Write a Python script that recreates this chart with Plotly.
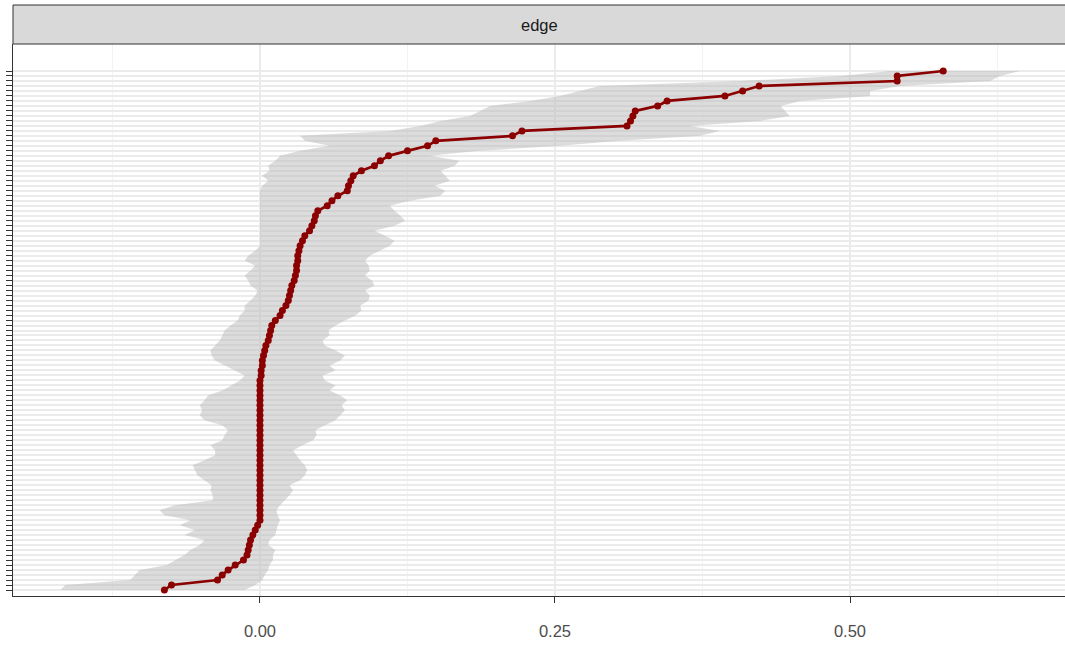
import plotly.graph_objects as go

# Edge index, ordered from the most negative sample weight (bottom) to the largest (top)
edges = list(range(1, 106))

# Sample edge weights
sample = [
    -0.081, -0.075, -0.036, -0.032, -0.027, -0.021, -0.014, -0.011, -0.010, -0.009,
    -0.008, -0.006, -0.004, -0.002,
    0, 0, 0, 0, 0, 0, 0, 0, 0, 0,
    0, 0, 0, 0, 0, 0, 0, 0, 0, 0,
    0, 0, 0, 0, 0, 0, 0, 0, 0,
    0.001, 0.001, 0.002, 0.002, 0.003, 0.004, 0.005, 0.007, 0.008, 0.009,
    0.010, 0.013, 0.017, 0.019, 0.022, 0.024, 0.025, 0.026, 0.027, 0.029,
    0.030, 0.031, 0.031, 0.032, 0.032, 0.033, 0.034, 0.036, 0.038, 0.042,
    0.044, 0.046, 0.047, 0.049, 0.057, 0.061, 0.066, 0.074, 0.075, 0.077,
    0.079, 0.086, 0.097, 0.102, 0.109, 0.125, 0.142, 0.149, 0.214, 0.222,
    0.311, 0.314, 0.316, 0.318, 0.337, 0.345, 0.394, 0.409, 0.423, 0.540,
    0.540, 0.579,
]

# Bootstrap interval, lower bound
lower = [
    -0.169, -0.165, -0.110, -0.106, -0.102, -0.079, -0.072, -0.064, -0.059, -0.051,
    -0.047, -0.064, -0.055, -0.068, -0.059, -0.081, -0.085, -0.072, -0.040, -0.040,
    -0.042, -0.041, -0.047, -0.053, -0.055, -0.057, -0.047, -0.038, -0.038, -0.042,
    -0.032, -0.030, -0.027, -0.032, -0.047, -0.051, -0.049, -0.051, -0.047, -0.044,
    -0.032, -0.024, -0.017, -0.013, -0.021, -0.030, -0.038, -0.041, -0.042, -0.038,
    -0.034, -0.032, -0.030, -0.025, -0.019, -0.017, -0.013, -0.013, -0.008, -0.004,
    -0.002, -0.008, -0.010, -0.013, -0.008, -0.004, -0.013, -0.010, -0.004, 0.000,
    0.000, 0.000, 0.000, 0.000, 0.000, 0.000, 0.000, 0.000, 0.000, 0.000,
    0.000, 0.002, 0.007, 0.002, 0.008, 0.007, 0.013, 0.017, 0.034, 0.059,
    0.038, 0.034, 0.110, 0.136, 0.153, 0.178, 0.186, 0.195, 0.229, 0.254,
    0.271, 0.288, 0.407, 0.492, 0.534,
]

# Bootstrap interval, upper bound
upper = [
    -0.013, -0.004, 0.002, 0.004, 0.007, 0.008, 0.011, 0.011, 0.013, 0.007,
    0.008, 0.013, 0.014, 0.015, 0.017, 0.015, 0.014, 0.017, 0.021, 0.025,
    0.028, 0.025, 0.034, 0.038, 0.040, 0.038, 0.034, 0.031, 0.028, 0.036,
    0.045, 0.048, 0.047, 0.055, 0.064, 0.068, 0.072, 0.069, 0.074, 0.068,
    0.059, 0.064, 0.055, 0.053, 0.064, 0.059, 0.068, 0.072, 0.064, 0.055,
    0.053, 0.059, 0.058, 0.064, 0.072, 0.081, 0.086, 0.085, 0.092, 0.093,
    0.089, 0.097, 0.095, 0.089, 0.093, 0.092, 0.089, 0.093, 0.102, 0.110,
    0.114, 0.106, 0.097, 0.114, 0.123, 0.119, 0.114, 0.110, 0.127, 0.153,
    0.157, 0.148, 0.161, 0.157, 0.153, 0.165, 0.169, 0.144, 0.186, 0.254,
    0.305, 0.373, 0.390, 0.364, 0.424, 0.449, 0.445, 0.441, 0.458, 0.517,
    0.517, 0.542, 0.619, 0.627, 0.644,
]

x_ticks = [0.0, 0.25, 0.5]
x_tick_labels = ["0.00", "0.25", "0.50"]
x_minor_ticks = [-0.125, 0.125, 0.375, 0.625]
panel_title = "edge"

FONT = "Liberation Sans, Arial, sans-serif"
DARK = "#333333"

fig = go.Figure()

# Bootstrap band
fig.add_trace(go.Scatter(
    x=lower + upper[::-1],
    y=edges + edges[::-1],
    mode="lines",
    fill="toself",
    fillcolor="rgba(185,185,185,0.5)",
    line=dict(width=0),
    hoverinfo="skip",
    showlegend=False,
))

# Sample values
fig.add_trace(go.Scatter(
    x=sample,
    y=edges,
    mode="lines+markers",
    line=dict(color="#8B0000", width=2.7),
    marker=dict(color="#8B0000", size=7),
    showlegend=False,
))

strip_h = 39 / 552

fig.update_layout(
    width=1065,
    height=649,
    margin=dict(l=13, r=0, t=44, b=53),
    paper_bgcolor="white",
    plot_bgcolor="white",
    font=dict(family=FONT),
    xaxis=dict(
        range=[-0.2093, 0.6822],
        tickvals=x_ticks,
        ticktext=x_tick_labels,
        tickfont=dict(size=16.5, color="#4D4D4D", family=FONT),
        ticks="outside",
        ticklen=6,
        tickwidth=1,
        tickcolor=DARK,
        ticklabelstandoff=14,
        showgrid=True,
        gridcolor="#EBEBEB",
        gridwidth=1.5,
        minor=dict(tickvals=x_minor_ticks, showgrid=True,
                   gridcolor="#F3F3F3", gridwidth=1, ticks=""),
        showline=True,
        linecolor=DARK,
        linewidth=1,
        zeroline=False,
    ),
    yaxis=dict(
        range=[-0.202, 110.41],
        tickvals=edges,
        showticklabels=False,
        ticks="outside",
        ticklen=6,
        tickwidth=1,
        tickcolor=DARK,
        showgrid=True,
        gridcolor="#EBEBEB",
        gridwidth=2,
        showline=True,
        linecolor=DARK,
        linewidth=1,
        zeroline=False,
    ),
    shapes=[dict(
        type="rect", xref="paper", yref="paper",
        x0=0, x1=1.02, y0=1, y1=1 + strip_h,
        fillcolor="#D9D9D9", line=dict(color=DARK, width=1),
        layer="above",
    )],
    annotations=[dict(
        text=panel_title, xref="paper", yref="paper",
        x=0.5, y=1 + strip_h / 2, showarrow=False,
        xanchor="center", yanchor="middle",
        font=dict(size=16.5, color="#1A1A1A", family=FONT),
    )],
)

fig.write_html("out.html")
